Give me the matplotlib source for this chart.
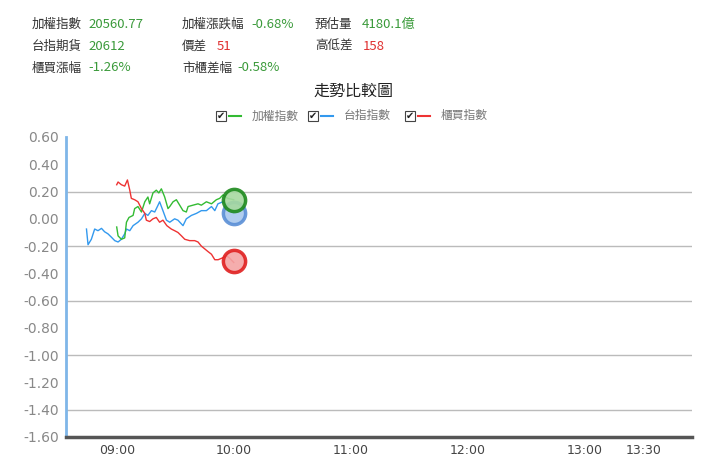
import numpy as np
import matplotlib
matplotlib.use("Agg")
import matplotlib.pyplot as plt
from matplotlib.patches import Rectangle

plt.rcParams['font.family'] = ['Noto Sans CJK TC', 'DejaVu Sans']

# minutes after 09:00 and percent change
blue_t = [-15.5, -14.7, -13, -11.3, -9.6, -7.8, -6.2, -4.5, -2.7, -1, 0.7, 2.4, 4.1, 5,
          6.7, 8.4, 10.9, 12.7, 14.4, 16, 17.8, 19.5, 21.2, 22, 23.7, 25.5, 27.2, 29.7,
          31.4, 34, 35.7, 38.3, 40.9, 43.4, 46, 48.6, 50.3, 51.9, 54.5, 57.1, 60]
blue_v = [-0.075, -0.19, -0.15, -0.075, -0.087, -0.07, -0.095, -0.11, -0.135, -0.16,
          -0.17, -0.15, -0.11, -0.075, -0.087, -0.05, -0.025, 0.0, 0.04, 0.025, 0.06,
          0.05, 0.10, 0.125, 0.06, -0.01, -0.025, 0.0, -0.01, -0.05, 0.0, 0.025, 0.04,
          0.06, 0.06, 0.09, 0.06, 0.11, 0.125, 0.09, 0.04]

green_t = [0, 0.7, 2.4, 4.1, 5, 6.3, 8.4, 9.2, 10.9, 12.7, 14.4, 16, 16.9, 18.6, 20.3,
           21.6, 22.9, 24.6, 26.3, 27.2, 28.9, 30.6, 32.3, 34, 35.7, 36.6, 39.1, 41.7,
           43.4, 46, 48.6, 51.1, 52.8, 54.5, 56.9, 60]
green_v = [-0.06, -0.125, -0.15, -0.14, -0.025, 0.01, 0.025, 0.075, 0.09, 0.05, 0.125,
           0.16, 0.11, 0.19, 0.21, 0.19, 0.22, 0.16, 0.075, 0.09, 0.125, 0.14, 0.10,
           0.06, 0.05, 0.09, 0.10, 0.11, 0.10, 0.125, 0.11, 0.14, 0.15, 0.175, 0.15, 0.14]

red_t = [0, 0.7, 2.4, 4.1, 5.5, 6.7, 7.5, 9.2, 10.9, 12.7, 14.4, 15.2, 16.9, 18.6, 20.3,
         22, 23.7, 25.7, 28, 29.7, 31.4, 33.2, 34.9, 37.4, 40, 41.7, 43.4, 45.1, 46.8,
         48.6, 50.3, 52, 54.5, 56.3, 58, 60]
red_v = [0.25, 0.27, 0.25, 0.24, 0.285, 0.21, 0.15, 0.14, 0.125, 0.075, 0.04, -0.01,
         -0.02, 0.0, 0.01, -0.025, -0.01, -0.05, -0.075, -0.087, -0.1, -0.125, -0.15,
         -0.16, -0.16, -0.17, -0.2, -0.22, -0.24, -0.26, -0.30, -0.30, -0.285, -0.27,
         -0.29, -0.32]

end_t = 60
end_green, end_blue, end_red = 0.14, 0.04, -0.31

xtick_pos = [0, 60, 120, 180, 240, 270]
xtick_lab = ['09:00', '10:00', '11:00', '12:00', '13:00', '13:30']
yticks = [0.6, 0.4, 0.2, 0.0, -0.2, -0.4, -0.6, -0.8, -1.0, -1.2, -1.4, -1.6]
grid_vals = [0.2, -0.2, -0.6, -1.0, -1.4]

header = [
    (32, 24, '加權指數', 88, '20560.77', '#3a9a3a'),
    (182, 24, '加權漲跌幅', 251, '-0.68%', '#3a9a3a'),
    (315, 24, '預估量', 362, '4180.1億', '#3a9a3a'),
    (32, 46, '台指期貨', 88, '20612', '#3a9a3a'),
    (182, 46, '價差', 217, '51', '#e03030'),
    (315, 46, '高低差', 363, '158', '#e03030'),
    (32, 68, '櫃買漲幅', 88, '-1.26%', '#3a9a3a'),
    (182, 68, '市櫃差幅', 237, '-0.58%', '#3a9a3a'),
]
legend_items = [(216, '#33bb33', '加權指數'), (308, '#3399ee', '台指指數'), (405, '#ee3333', '櫃買指數')]

W, H = 720, 476
fig = plt.figure(figsize=(7.2, 4.76), dpi=100)
ax = fig.add_axes([66 / W, 1 - 437 / H, 626 / W, 300 / H])

for g in grid_vals:
    ax.axhline(g, color='#bbbbbb', lw=1, zorder=1)

ax.plot(blue_t, blue_v, color='#3399ee', lw=1, zorder=3)
ax.plot(green_t, green_v, color='#33bb33', lw=1, zorder=3)
ax.plot(red_t, red_v, color='#ee3333', lw=1, zorder=3)

ax.plot(end_t, end_blue, 'o', ms=16, mfc='#a9c8ee', mec='#5b8fd6', mew=2.5, alpha=0.9, zorder=4)
ax.plot(end_t, end_green, 'o', ms=16, mfc='#a6d9a0', mec='#1e8a1e', mew=2.5, alpha=0.9, zorder=5)
ax.plot(end_t, end_red, 'o', ms=16, mfc='#f4a4a4', mec='#e02020', mew=2.5, alpha=0.9, zorder=5)

ax.set_xlim(-26, 295)
ax.set_ylim(-1.6, 0.6)
ax.set_yticks(yticks)
ax.set_yticklabels(['%.2f' % v for v in yticks], color='#888888', fontsize=10, family='DejaVu Sans')
ax.set_xticks(xtick_pos)
ax.set_xticklabels(xtick_lab, color='#444444', fontsize=9, family='DejaVu Sans')
ax.tick_params(length=0, pad=5)
for s in ['top', 'right']:
    ax.spines[s].set_visible(False)
ax.spines['left'].set_color('#7fb6e8')
ax.spines['left'].set_linewidth(2)
ax.spines['bottom'].set_color('#555555')
ax.spines['bottom'].set_linewidth(2.5)

for x, y, lab, vx, val, col in header:
    fig.text(x / W, 1 - y / H, lab, fontsize=9, color='#333333', va='center')
    fig.text(vx / W, 1 - y / H, val, fontsize=9.5, color=col, va='center')

fig.text(353 / W, 1 - 91 / H, '走勢比較圖', fontsize=11.5, color='#222222', ha='center', va='center')

for x, col, lab in legend_items:
    y = 1 - 116 / H
    fig.patches.append(Rectangle((x / W, y - 5 / H), 10 / W, 10 / H, transform=fig.transFigure,
                                 fill=False, edgecolor='#444444', lw=0.8))
    fig.text((x + 5) / W, y, '✔', fontsize=7, color='#222222', ha='center', va='center',
             family='DejaVu Sans')
    fig.lines.append(plt.Line2D([(x + 13) / W, (x + 25) / W], [y, y], transform=fig.transFigure,
                                color=col, lw=1.5))
    fig.text((x + 36) / W, y, lab, fontsize=8.5, color='#777777', va='center')

fig.savefig('out.png', dpi=100)
